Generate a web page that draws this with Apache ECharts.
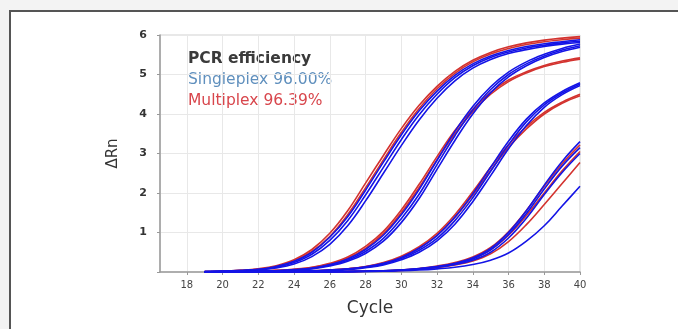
<!DOCTYPE html>
<html>
<head>
<meta charset="utf-8">
<style>
html,body{margin:0;padding:0;background:#f3f3f3;overflow:hidden;}
#chart{width:678px;height:329px;}
</style>
<script src="https://cdn.jsdelivr.net/npm/echarts@6/dist/echarts.min.js"></script>
</head>
<body>
<div id="chart"></div>
<script>
// ---- data ----
var cycles = [19,20,21,22,23,24,25,26,27,28,29,30,31,32,33,34,35,36,37,38,39,40];
var xTickLabels = [18,20,22,24,26,28,30,32,34,36,38,40];
var yTickLabels = [1,2,3,4,5,6];
var legendLines = ['PCR efficiency', 'Singleplex 96.00%', 'Multiplex 96.39%'];
var xTitle = 'Cycle';
var yTitle = '\u0394Rn';

// dilution 1
var singleG1a = [0.01,0.02,0.03,0.06,0.12,0.24,0.45,0.8,1.3,1.95,2.65,3.35,3.98,4.5,4.92,5.22,5.43,5.57,5.67,5.74,5.8,5.84];
var singleG1b = [0.01,0.02,0.03,0.05,0.1,0.2,0.39,0.7,1.17,1.8,2.5,3.2,3.85,4.4,4.84,5.16,5.38,5.53,5.63,5.71,5.77,5.81];
var singleG1c = [0.01,0.02,0.04,0.07,0.14,0.27,0.5,0.88,1.4,2.07,2.78,3.47,4.08,4.58,4.98,5.27,5.47,5.61,5.71,5.78,5.83,5.88];
var multiG1a  = [0.01,0.02,0.04,0.08,0.16,0.31,0.57,0.98,1.55,2.25,2.95,3.63,4.22,4.7,5.08,5.36,5.56,5.7,5.8,5.87,5.92,5.96];
var multiG1b  = [0.01,0.02,0.04,0.07,0.14,0.28,0.52,0.9,1.45,2.13,2.84,3.53,4.14,4.64,5.03,5.32,5.52,5.66,5.76,5.83,5.88,5.92];
// dilution 2
var singleG2a = [0,0.01,0.01,0.02,0.03,0.05,0.09,0.17,0.3,0.52,0.85,1.35,1.97,2.72,3.45,4.1,4.62,5.0,5.27,5.47,5.62,5.73];
var singleG2b = [0,0.01,0.01,0.02,0.03,0.05,0.08,0.15,0.27,0.47,0.78,1.25,1.86,2.6,3.33,4.0,4.54,4.94,5.22,5.43,5.58,5.69];
var singleG2c = [0,0.01,0.01,0.02,0.03,0.06,0.1,0.19,0.33,0.57,0.93,1.45,2.09,2.83,3.56,4.19,4.69,5.06,5.32,5.51,5.66,5.77];
var multiG2a  = [0,0.01,0.01,0.02,0.04,0.07,0.12,0.22,0.38,0.65,1.03,1.57,2.22,2.92,3.58,4.12,4.55,4.86,5.07,5.23,5.34,5.42];
var multiG2b  = [0,0.01,0.01,0.02,0.04,0.06,0.11,0.2,0.35,0.6,0.97,1.5,2.14,2.84,3.5,4.06,4.5,4.82,5.04,5.2,5.31,5.39];
// dilution 3
var singleG3a = [0,0,0,0.01,0.01,0.02,0.03,0.04,0.07,0.12,0.2,0.34,0.55,0.85,1.3,1.88,2.55,3.22,3.8,4.23,4.53,4.76];
var singleG3b = [0,0,0,0.01,0.01,0.02,0.03,0.04,0.06,0.11,0.18,0.31,0.5,0.79,1.21,1.78,2.44,3.12,3.71,4.17,4.49,4.72];
var singleG3c = [0,0,0,0.01,0.01,0.02,0.03,0.05,0.08,0.13,0.22,0.37,0.6,0.92,1.39,1.98,2.65,3.31,3.87,4.28,4.57,4.79];
var multiG3a  = [0,0,0,0.01,0.01,0.02,0.03,0.05,0.08,0.14,0.24,0.4,0.64,0.98,1.45,2.03,2.65,3.22,3.68,4.04,4.3,4.5];
var multiG3b  = [0,0,0,0.01,0.01,0.02,0.03,0.05,0.08,0.13,0.22,0.37,0.6,0.93,1.38,1.95,2.57,3.15,3.62,4.0,4.27,4.46];
// dilution 4
var singleG4a = [0,0,0,0,0,0,0,0,0.01,0.02,0.03,0.05,0.08,0.13,0.2,0.33,0.56,0.95,1.48,2.1,2.68,3.15];
var singleG4b = [0,0,0,0,0,0,0,0,0.01,0.02,0.03,0.05,0.09,0.14,0.22,0.36,0.6,1.0,1.55,2.2,2.8,3.3];
var singleG4c = [0,0,0,0,0,0,0,0,0.01,0.02,0.03,0.05,0.07,0.12,0.19,0.3,0.5,0.86,1.36,1.96,2.52,3.0];
var singleG4d = [0,0,0,0,0,0,0,0,0,0.01,0.02,0.03,0.05,0.08,0.12,0.19,0.3,0.48,0.78,1.17,1.67,2.17];
var multiG4a  = [0,0,0,0,0,0,0,0,0.01,0.02,0.03,0.05,0.09,0.15,0.24,0.38,0.62,1.02,1.56,2.17,2.74,3.22];
var multiG4b  = [0,0,0,0,0,0,0,0,0.01,0.02,0.03,0.04,0.07,0.11,0.18,0.28,0.46,0.77,1.2,1.71,2.24,2.77];
var multiG4c  = [0,0,0,0,0,0,0,0,0.01,0.02,0.03,0.05,0.08,0.13,0.21,0.34,0.56,0.93,1.43,2.0,2.56,3.05];

var multiplexRuns = [multiG1a, multiG1b, multiG2a, multiG2b, multiG3a, multiG3b, multiG4a, multiG4b, multiG4c];
var singleplexRuns = [singleG1a, singleG1b, singleG1c, singleG2a, singleG2b, singleG2c,
                      singleG3a, singleG3b, singleG3c, singleG4a, singleG4b, singleG4c, singleG4d];

// ---- styling ----
var FONT = 'DejaVu Sans';
var BLUE = '#1414e6';
var RED = '#d3332f';

function makeSeries(runs, color, name, width) {
  return runs.map(function (vals) {
    return {
      type: 'line',
      name: name,
      data: cycles.map(function (c, i) { return [c, vals[i]]; }),
      smooth: 0.4,
      showSymbol: false,
      silent: true,
      lineStyle: { color: color, width: width },
      animation: false
    };
  });
}

var chart = echarts.init(document.getElementById('chart'), null, { renderer: 'canvas' });
chart.setOption({
  animation: false,
  backgroundColor: '#f3f3f3',
  graphic: [
    { type: 'rect', z: -10, shape: { x: 10, y: 11, width: 668, height: 318 },
      style: { fill: '#ffffff', stroke: null } },
    { type: 'line', z: -9, shape: { x1: 10, y1: 11, x2: 678, y2: 11 },
      style: { stroke: '#555555', lineWidth: 2 } },
    { type: 'line', z: -9, shape: { x1: 10, y1: 10, x2: 10, y2: 329 },
      style: { stroke: '#555555', lineWidth: 2 } },
    { type: 'text', left: 188, top: 51, style: { text: legendLines[0], fill: '#3a3a3a', font: 'bold 15.5px "DejaVu Sans"' } },
    { type: 'text', left: 188, top: 72, style: { text: legendLines[1], fill: '#5f8fbd', font: '15.5px "DejaVu Sans"' } },
    { type: 'text', left: 188, top: 93, style: { text: legendLines[2], fill: '#d8464c', font: '15.5px "DejaVu Sans"' } }
  ],
  grid: { left: 160, right: 98, top: 35, bottom: 57, show: true, borderColor: '#d0d0d0', borderWidth: 1, backgroundColor: '#ffffff' },
  xAxis: {
    type: 'value', min: 16.5, max: 40,
    name: xTitle, nameLocation: 'middle', nameGap: 28,
    nameTextStyle: { fontFamily: FONT, fontSize: 17, color: '#333333' },
    axisLine: { lineStyle: { color: '#9a9a9a', width: 1.5 } },
    axisTick: { show: true, length: 3, customValues: xTickLabels, lineStyle: { color: '#999999' } },
    axisLabel: { customValues: xTickLabels, fontFamily: FONT, fontSize: 10, color: '#444444', margin: 8 },
    splitLine: { show: true, lineStyle: { color: '#e8e8e8', width: 1 } }
  },
  yAxis: {
    type: 'value', min: 0, max: 6, interval: 1,
    name: yTitle, nameLocation: 'middle', nameGap: 39, nameRotate: 90,
    nameTextStyle: { fontFamily: FONT, fontSize: 15, color: '#333333' },
    axisLine: { show: true, lineStyle: { color: '#9a9a9a', width: 1.5 } },
    axisTick: { show: true, length: 3, lineStyle: { color: '#999999' } },
    axisLabel: { fontFamily: FONT, fontSize: 11, fontWeight: 'bold', color: '#333333', margin: 13,
      formatter: function (v) { return yTickLabels.indexOf(v) >= 0 ? String(v) : ''; } },
    splitLine: { show: true, lineStyle: { color: '#e8e8e8', width: 1 } }
  },
  series: makeSeries(multiplexRuns, RED, 'Multiplex', 1.6).concat(makeSeries(singleplexRuns, BLUE, 'Singleplex', 1.6))
});
</script>
</body>
</html>
